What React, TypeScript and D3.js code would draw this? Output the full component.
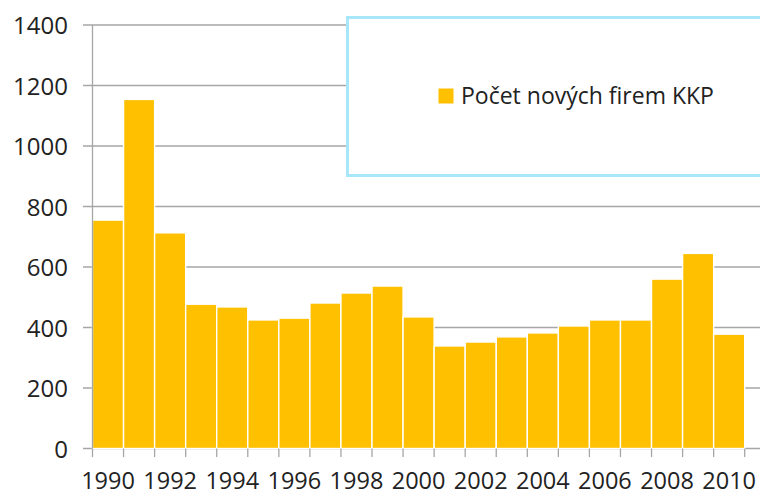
import React from "react";
import * as d3 from "d3";

const years = d3.range(1990, 2011).map(String);
const values = [755, 1154, 713, 477, 468, 425, 431, 481, 514, 537, 435, 339, 352, 369, 382, 405, 425, 425, 560, 645, 378];
const yTicks = [0, 200, 400, 600, 800, 1000, 1200, 1400];
const seriesName = "Počet nových firem KKP";

const W = 760, H = 495;
const FONT = "'Open Sans', sans-serif";

export default function App() {
  const x = d3.scaleBand<string>().domain(years).range([92.5, 744.7]).padding(0);
  const y = d3.scaleLinear().domain([0, 1400]).range([448.5, 25]);
  const bw = x.bandwidth();
  return (
    <svg width={W} height={H} style={{ position: "absolute", left: 0, top: 0, background: "#fff" }}>
      {yTicks.map((t) => (
        <g key={t}>
          <line x1={83} x2={W} y1={y(t)} y2={y(t)} stroke="#a6a6a6" strokeWidth={1.3} />
          <text x={68} y={y(t) + 9} textAnchor="end" fontFamily={FONT} fontSize={24} fill="#222">{t}</text>
        </g>
      ))}
      {values.map((v, i) => (
        <rect key={years[i]} x={x(years[i])!} y={y(v)} width={bw} height={y(0) - y(v)} fill="#ffc000" stroke="#fff" strokeWidth={1.4} />
      ))}
      <line x1={92.5} x2={92.5} y1={25} y2={448.5} stroke="#a6a6a6" strokeWidth={1.3} />
      {years.concat(["end"]).map((yr, i) => {
        const px = i < years.length ? x(yr)! : x.range()[1];
        return <line key={"t" + i} x1={px} x2={px} y1={448.5} y2={457} stroke="#a6a6a6" strokeWidth={1.3} />;
      })}
      {years.map((yr, i) => i % 2 === 0 ? (
        <text key={"l" + yr} x={x(yr)! + bw / 2} y={488.5} textAnchor="middle" fontFamily={FONT} fontSize={23.5} fill="#222">{yr}</text>
      ) : null)}
      <rect x={347.5} y={17.5} width={W} height={158} fill="#fff" stroke="#a8e6fa" strokeWidth={3} />
      <rect x={438.5} y={88.5} width={15} height={15} fill="#ffc000" />
      <text x={461} y={104} fontFamily={FONT} fontSize={23} fill="#222">{seriesName}</text>
    </svg>
  );
}
